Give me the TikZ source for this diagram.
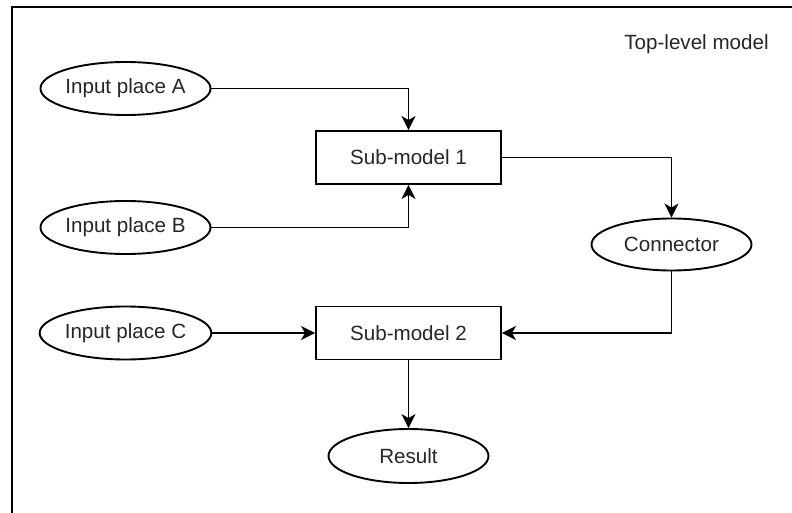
\documentclass[tikz,border=0pt]{standalone}
\usepackage{fontspec}
\setmainfont{Liberation Sans}
\usetikzlibrary{arrows.meta,shapes.geometric}
\begin{document}
\begin{tikzpicture}[x=1pt,y=-1pt,
  every node/.style={font=\fontsize{20.6}{24}\selectfont, text=black!85},
  place/.style={ellipse, draw, line width=1.9pt, minimum width=159pt, minimum height=53pt, inner sep=0pt},
  submodel/.style={rectangle, draw, line width=1.9pt, minimum width=185pt, minimum height=53pt, inner sep=0pt},
  conn/.style={line width=1.9pt, -{Stealth[length=14pt,width=14pt,inset=4pt]}}
]
\useasboundingbox (0,0) rectangle (792,513);
\fill[white] (0,0) rectangle (792,513);
\draw[line width=2.4pt] (792,7) -- (12,7) -- (12,513);
\node (title) at (696.5,44) {Top-level model};
\node[place] (A) at (125.5,88.5) {Input place A};
\node[place] (B) at (125.5,227.5) {Input place B};
\node[place] (C) at (125.5,333) {Input place C};
\node[submodel] (S1) at (408.5,157.5) {Sub-model 1};
\node[submodel] (S2) at (408.5,333) {Sub-model 2};
\node[place, minimum width=160pt, minimum height=52pt] (K) at (671.5,244.5) {Connector};
\node[place, minimum width=160pt, minimum height=54pt] (R) at (408.5,456) {Result};
\draw[conn] (A.east) -| (S1.north);
\draw[conn] (B.east) -| (S1.south);
\draw[conn] (S1.east) -| (K.north);
\draw[conn] (K.south) |- (S2.east);
\draw[conn] (C.east) -- (S2.west);
\draw[conn] (S2.south) -- (R.north);
\end{tikzpicture}
\end{document}
